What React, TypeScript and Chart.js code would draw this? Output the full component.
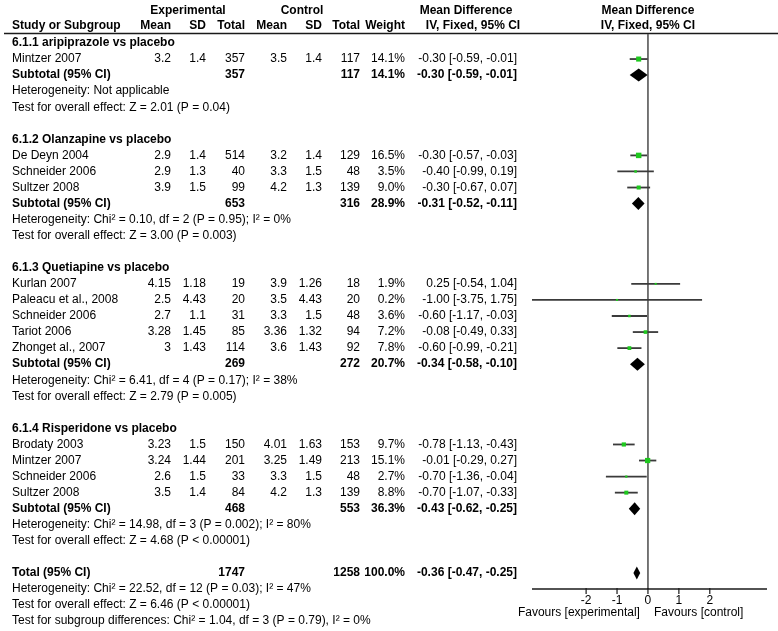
import { useEffect, useRef } from "react";
import { Chart, registerables } from "chart.js";

Chart.register(...registerables);

// ---------- data ----------
const groupTitles = [
  "6.1.1 aripiprazole vs placebo",
  "6.1.2 Olanzapine vs placebo",
  "6.1.3 Quetiapine vs placebo",
  "6.1.4 Risperidone vs placebo",
];
const studyNames = [
  "Mintzer 2007",
  "De Deyn 2004",
  "Schneider 2006",
  "Sultzer 2008",
  "Kurlan 2007",
  "Paleacu et al., 2008",
  "Schneider 2006",
  "Tariot 2006",
  "Zhonget al., 2007",
  "Brodaty 2003",
  "Mintzer 2007",
  "Schneider 2006",
  "Sultzer 2008",
];
const studyGroup = [0, 1, 1, 1, 2, 2, 2, 2, 2, 3, 3, 3, 3];
const expMean = [3.2, 2.9, 2.9, 3.9, 4.15, 2.5, 2.7, 3.28, 3, 3.23, 3.24, 2.6, 3.5];
const expSD = [1.4, 1.4, 1.3, 1.5, 1.18, 4.43, 1.1, 1.45, 1.43, 1.5, 1.44, 1.5, 1.4];
const expTotal = [357, 514, 40, 99, 19, 20, 31, 85, 114, 150, 201, 33, 84];
const ctlMean = [3.5, 3.2, 3.3, 4.2, 3.9, 3.5, 3.3, 3.36, 3.6, 4.01, 3.25, 3.3, 4.2];
const ctlSD = [1.4, 1.4, 1.5, 1.3, 1.26, 4.43, 1.5, 1.32, 1.43, 1.63, 1.49, 1.5, 1.3];
const ctlTotal = [117, 129, 48, 139, 18, 20, 48, 94, 92, 153, 213, 48, 139];
const studyWeight = [14.1, 16.5, 3.5, 9.0, 1.9, 0.2, 3.6, 7.2, 7.8, 9.7, 15.1, 2.7, 8.8];
const studyMD = [-0.3, -0.3, -0.4, -0.3, 0.25, -1.0, -0.6, -0.08, -0.6, -0.78, -0.01, -0.7, -0.7];
const studyLow = [-0.59, -0.57, -0.99, -0.67, -0.54, -3.75, -1.17, -0.49, -0.99, -1.13, -0.29, -1.36, -1.07];
const studyHigh = [-0.01, -0.03, 0.19, 0.07, 1.04, 1.75, -0.03, 0.33, -0.21, -0.43, 0.27, -0.04, -0.33];

const groupExpTotal = [357, 653, 269, 468];
const groupCtlTotal = [117, 316, 272, 553];
const groupWeight = [14.1, 28.9, 20.7, 36.3];
const groupMD = [-0.3, -0.31, -0.34, -0.43];
const groupLow = [-0.59, -0.52, -0.58, -0.62];
const groupHigh = [-0.01, -0.11, -0.1, -0.25];
const groupHeterogeneity = [
  "Heterogeneity: Not applicable",
  "Heterogeneity: Chi² = 0.10, df = 2 (P = 0.95); I² = 0%",
  "Heterogeneity: Chi² = 6.41, df = 4 (P = 0.17); I² = 38%",
  "Heterogeneity: Chi² = 14.98, df = 3 (P = 0.002); I² = 80%",
];
const groupOverall = [
  "Test for overall effect: Z = 2.01 (P = 0.04)",
  "Test for overall effect: Z = 3.00 (P = 0.003)",
  "Test for overall effect: Z = 2.79 (P = 0.005)",
  "Test for overall effect: Z = 4.68 (P < 0.00001)",
];

const totalValues = [1747, 1258, 100.0];
const totalEffect = [-0.36, -0.47, -0.25];
const totalLines = [
  "Heterogeneity: Chi² = 22.52, df = 12 (P = 0.03); I² = 47%",
  "Test for overall effect: Z = 6.46 (P < 0.00001)",
  "Test for subgroup differences: Chi² = 1.04, df = 3 (P = 0.79), I² = 0%",
];
const xTicks = [-2, -1, 0, 1, 2];
const favourLabels = ["Favours [experimental]", "Favours [control]"];

// ---------- layout helpers ----------
type Row =
  | { kind: "title"; g: number }
  | { kind: "study"; s: number }
  | { kind: "subtotal"; g: number }
  | { kind: "text"; text: string }
  | { kind: "total" }
  | { kind: "blank" };

function buildRows(): Row[] {
  const rows: Row[] = [];
  groupTitles.forEach((_, g) => {
    rows.push({ kind: "title", g });
    studyNames.forEach((_, s) => {
      if (studyGroup[s] === g) rows.push({ kind: "study", s });
    });
    rows.push({ kind: "subtotal", g });
    rows.push({ kind: "text", text: groupHeterogeneity[g] });
    rows.push({ kind: "text", text: groupOverall[g] });
    rows.push({ kind: "blank" });
  });
  rows.push({ kind: "total" });
  totalLines.forEach((t) => rows.push({ kind: "text", text: t }));
  return rows;
}

const FONT = "'Liberation Sans', Arial, Helvetica, sans-serif";
const fmtCI = (m: number, l: number, h: number) =>
  `${m.toFixed(2)} [${l.toFixed(2)}, ${h.toFixed(2)}]`;

export default function App() {
  const ref = useRef<HTMLCanvasElement | null>(null);

  useEffect(() => {
    document.body.style.margin = "0";
    const canvas = ref.current;
    if (!canvas) return;
    const rows = buildRows();
    const studyRow: number[] = [];
    const groupRow: number[] = [];
    let totalRow = 0;
    rows.forEach((r, i) => {
      if (r.kind === "study") studyRow[r.s] = i;
      if (r.kind === "subtotal") groupRow[r.g] = i;
      if (r.kind === "total") totalRow = i;
    });

    const C = {
      left: 12,
      mean: 171,
      sd: 206,
      tot: 245,
      cmean: 287,
      csd: 322,
      ctot: 360,
      weight: 405,
      md: 517,
    };

    const forestPlugin = {
      id: "forest",
      beforeDatasetsDraw(chart: any) {
        const { ctx, scales, chartArea } = chart;
        const x = scales.x;
        const y = scales.y;
        ctx.save();
        // header underline
        ctx.strokeStyle = "#1a1a1a";
        ctx.lineWidth = 1.5;
        ctx.beginPath();
        ctx.moveTo(4, chartArea.top - 0.5);
        ctx.lineTo(778, chartArea.top - 0.5);
        ctx.stroke();
        // zero line
        const x0 = x.getPixelForValue(0);
        ctx.strokeStyle = "#555555";
        ctx.lineWidth = 1.6;
        ctx.beginPath();
        ctx.moveTo(x0, chartArea.top);
        ctx.lineTo(x0, chartArea.bottom);
        ctx.stroke();
        // CI whiskers
        ctx.strokeStyle = "#3a3a3a";
        ctx.lineWidth = 1.8;
        studyNames.forEach((_, s) => {
          const py = y.getPixelForValue(studyRow[s]);
          ctx.beginPath();
          ctx.moveTo(x.getPixelForValue(studyLow[s]), py);
          ctx.lineTo(x.getPixelForValue(studyHigh[s]), py);
          ctx.stroke();
        });
        ctx.restore();
      },
      afterDatasetsDraw(chart: any) {
        const { ctx, scales, chartArea } = chart;
        const x = scales.x;
        const y = scales.y;
        ctx.save();
        // diamonds
        const diamond = (row: number, m: number, l: number, h: number, hh: number) => {
          const py = y.getPixelForValue(row);
          ctx.beginPath();
          ctx.moveTo(x.getPixelForValue(l), py);
          ctx.lineTo(x.getPixelForValue(m), py - hh);
          ctx.lineTo(x.getPixelForValue(h), py);
          ctx.lineTo(x.getPixelForValue(m), py + hh);
          ctx.closePath();
          ctx.fill();
        };
        ctx.fillStyle = "#000";
        groupTitles.forEach((_, g) =>
          diamond(groupRow[g], groupMD[g], groupLow[g], groupHigh[g], 6.5)
        );
        diamond(totalRow, totalEffect[0], totalEffect[1], totalEffect[2], 6.5);

        // x axis
        ctx.strokeStyle = "#1a1a1a";
        ctx.lineWidth = 1.5;
        ctx.beginPath();
        ctx.moveTo(chartArea.left, chartArea.bottom);
        ctx.lineTo(chartArea.right, chartArea.bottom);
        ctx.stroke();
        ctx.lineWidth = 1.2;
        ctx.fillStyle = "#000";
        ctx.font = `12px ${FONT}`;
        ctx.textAlign = "center";
        ctx.textBaseline = "middle";
        xTicks.forEach((t) => {
          const px = x.getPixelForValue(t);
          ctx.beginPath();
          ctx.moveTo(px, chartArea.bottom - 1);
          ctx.lineTo(px, chartArea.bottom + 5);
          ctx.stroke();
          ctx.fillText(String(t), px, chartArea.bottom + 12);
        });
        const x0 = x.getPixelForValue(0);
        ctx.textAlign = "right";
        ctx.fillText(favourLabels[0], x0 - 8, chartArea.bottom + 24);
        ctx.textAlign = "left";
        ctx.fillText(favourLabels[1], x0 + 6, chartArea.bottom + 24);

        // headers
        const bold = `bold 12px ${FONT}`;
        const reg = `12px ${FONT}`;
        const h1 = y.getPixelForValue(-2);
        const h2 = y.getPixelForValue(-1) - 1;
        ctx.font = bold;
        ctx.textAlign = "center";
        ctx.fillText("Experimental", 188, h1);
        ctx.fillText("Control", 302, h1);
        ctx.fillText("Mean Difference", 466, h1);
        ctx.fillText("Mean Difference", x0, h1);
        ctx.fillText("IV, Fixed, 95% CI", 473, h2);
        ctx.fillText("IV, Fixed, 95% CI", x0, h2);
        ctx.textAlign = "left";
        ctx.fillText("Study or Subgroup", C.left, h2);
        ctx.textAlign = "right";
        ctx.fillText("Mean", C.mean, h2);
        ctx.fillText("SD", C.sd, h2);
        ctx.fillText("Total", C.tot, h2);
        ctx.fillText("Mean", C.cmean, h2);
        ctx.fillText("SD", C.csd, h2);
        ctx.fillText("Total", C.ctot, h2);
        ctx.fillText("Weight", C.weight, h2);

        // table rows
        const right = (t: string, px: number, py: number) => {
          ctx.textAlign = "right";
          ctx.fillText(t, px, py);
        };
        const left = (t: string, py: number) => {
          ctx.textAlign = "left";
          ctx.fillText(t, C.left, py);
        };
        rows.forEach((r, i) => {
          const py = y.getPixelForValue(i);
          if (r.kind === "title") {
            ctx.font = bold;
            left(groupTitles[r.g], py);
          } else if (r.kind === "study") {
            const s = r.s;
            ctx.font = reg;
            left(studyNames[s], py);
            right(String(expMean[s]), C.mean, py);
            right(String(expSD[s]), C.sd, py);
            right(String(expTotal[s]), C.tot, py);
            right(String(ctlMean[s]), C.cmean, py);
            right(String(ctlSD[s]), C.csd, py);
            right(String(ctlTotal[s]), C.ctot, py);
            right(studyWeight[s].toFixed(1) + "%", C.weight, py);
            right(fmtCI(studyMD[s], studyLow[s], studyHigh[s]), C.md, py);
          } else if (r.kind === "subtotal") {
            const g = r.g;
            ctx.font = bold;
            left("Subtotal (95% CI)", py);
            right(String(groupExpTotal[g]), C.tot, py);
            right(String(groupCtlTotal[g]), C.ctot, py);
            right(groupWeight[g].toFixed(1) + "%", C.weight, py);
            right(fmtCI(groupMD[g], groupLow[g], groupHigh[g]), C.md, py);
          } else if (r.kind === "total") {
            ctx.font = bold;
            left("Total (95% CI)", py);
            right(String(totalValues[0]), C.tot, py);
            right(String(totalValues[1]), C.ctot, py);
            right(totalValues[2].toFixed(1) + "%", C.weight, py);
            right(fmtCI(totalEffect[0], totalEffect[1], totalEffect[2]), C.md, py);
          } else if (r.kind === "text") {
            ctx.font = reg;
            left(r.text, py);
          }
        });
        ctx.restore();
      },
    };

    const chart = new Chart(canvas, {
      type: "scatter",
      data: {
        datasets: [
          {
            data: studyNames.map((_, s) => ({ x: studyMD[s], y: studyRow[s] })),
            pointStyle: "rect",
            pointRadius: studyWeight.map((w) => Math.max(2, 1.35 * Math.sqrt(w)) / 1.414),
            backgroundColor: "#1ec81e",
            borderWidth: 0,
          },
        ],
      },
      options: {
        animation: false,
        responsive: false,
        devicePixelRatio: 1,
        layout: { padding: { left: 532, right: 11, top: 34, bottom: 42 } },
        plugins: { legend: { display: false }, tooltip: { enabled: false } },
        scales: {
          x: { type: "linear", min: -3.75, max: 3.85, display: false },
          y: { type: "linear", min: -0.56, max: 34.0, reverse: true, display: false },
        },
      },
      plugins: [forestPlugin],
    } as any);
    return () => chart.destroy();
  }, []);

  return (
    <canvas
      ref={ref}
      width={778}
      height={631}
      style={{ display: "block", width: 778, height: 631, background: "#fff" }}
    />
  );
}
